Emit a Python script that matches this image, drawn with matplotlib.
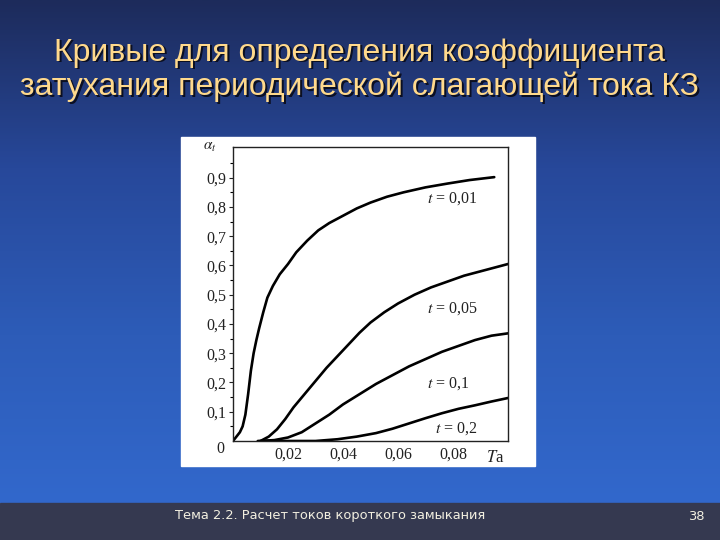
import numpy as np
import matplotlib.pyplot as plt
from matplotlib.colors import LinearSegmentedColormap
from matplotlib.patches import Rectangle

# curves: (T_a, alpha_t)
t001_x = [0, 0.0025, 0.0035, 0.0045, 0.0055, 0.0065, 0.0075, 0.0085, 0.0095, 0.011,
          0.0125, 0.0145, 0.017, 0.020, 0.023, 0.027, 0.031, 0.035, 0.040, 0.045,
          0.050, 0.056, 0.062, 0.070, 0.078, 0.086, 0.095]
t001_y = [0, 0.03, 0.05, 0.09, 0.16, 0.24, 0.30, 0.345, 0.385, 0.44,
          0.49, 0.53, 0.57, 0.605, 0.645, 0.685, 0.72, 0.745, 0.77, 0.795,
          0.815, 0.835, 0.85, 0.867, 0.88, 0.892, 0.902]

t005_x = [0.010, 0.013, 0.016, 0.019, 0.022, 0.026, 0.030, 0.034, 0.038, 0.042,
          0.046, 0.050, 0.055, 0.060, 0.066, 0.072, 0.078, 0.084, 0.090, 0.100]
t005_y = [0.0, 0.015, 0.04, 0.075, 0.115, 0.16, 0.205, 0.25, 0.29, 0.33,
          0.37, 0.405, 0.44, 0.47, 0.50, 0.525, 0.545, 0.565, 0.58, 0.605]

t01_x = [0.009, 0.015, 0.020, 0.025, 0.030, 0.035, 0.040, 0.046, 0.052, 0.058,
         0.064, 0.070, 0.076, 0.082, 0.088, 0.094, 0.100]
t01_y = [0.0, 0.003, 0.012, 0.03, 0.06, 0.09, 0.125, 0.16, 0.195, 0.225,
         0.255, 0.28, 0.305, 0.325, 0.345, 0.36, 0.368]

t02_x = [0.012, 0.030, 0.038, 0.045, 0.052, 0.058, 0.064, 0.070, 0.076, 0.082,
         0.088, 0.094, 0.100]
t02_y = [0.0, 0.0, 0.006, 0.015, 0.027, 0.042, 0.06, 0.078, 0.095, 0.11,
         0.122, 0.135, 0.147]

curve_labels = ["0,01", "0,05", "0,1", "0,2"]
label_x = [0.0705, 0.0705, 0.0705, 0.0735]
label_y = [0.83, 0.453, 0.197, 0.043]

x_ticks = [0.02, 0.04, 0.06, 0.08]
x_ticklabels = ["0,02", "0,04", "0,06", "0,08"]
y_ticks = [0.1, 0.2, 0.3, 0.4, 0.5, 0.6, 0.7, 0.8, 0.9]
y_ticklabels = ["0,1", "0,2", "0,3", "0,4", "0,5", "0,6", "0,7", "0,8", "0,9"]

title = "Кривые для определения коэффициента\nзатухания периодической слагающей тока КЗ"
footer = "Тема 2.2. Расчет токов короткого замыкания"
page = "38"

plt.rcParams['mathtext.fontset'] = 'stix'

fig = plt.figure(figsize=(7.2, 5.4), dpi=100)

# slide background
bg = fig.add_axes([0, 0, 1, 1], zorder=0)
bg.set_axis_off()
cmap = LinearSegmentedColormap.from_list("slide", ["#1d2b5b", "#27489a", "#2d5cb8", "#3268cc"])
grad = np.linspace(0, 1, 256).reshape(-1, 1)
bg.imshow(grad, aspect='auto', cmap=cmap, extent=[0, 1, 37 / 540, 1], origin='upper')
bg.add_patch(Rectangle((0, 0), 1, 37 / 540, color="#353950"))
bg.add_patch(Rectangle((181 / 720, 74 / 540), 354 / 720, 329 / 540, color="white"))
bg.set_xlim(0, 1)
bg.set_ylim(0, 1)

# title with shadow
for dx, dy, col in [(1.5, -1.5, "#0b0f22"), (0, 0, "#ffd98c")]:
    fig.text(0.5 + dx / 720, 1 - 70 / 540 + dy / 540, title, ha='center', va='center',
             fontsize=23, family='Liberation Sans', color=col, linespacing=1.17, zorder=5)

fig.text(175 / 720, 1 - 516 / 540, footer, ha='left', va='center', fontsize=9.4,
         family='DejaVu Sans', color="#f2efe0")
fig.text(688 / 720, 1 - 517 / 540, page, ha='left', va='center', fontsize=9.4,
         family='DejaVu Sans', color="#f2efe0")

ax = fig.add_axes([233 / 720, 99 / 540, 275 / 720, 294 / 540], zorder=2)
ax.set_facecolor("white")
for xs, ys in [(t001_x, t001_y), (t005_x, t005_y), (t01_x, t01_y), (t02_x, t02_y)]:
    ax.plot(xs, ys, color="black", lw=1.9, solid_capstyle='round')

for lab, lx, ly in zip(curve_labels, label_x, label_y):
    ax.text(lx, ly, r"$t$ = " + lab, fontsize=11.5, family='Liberation Serif',
            ha='left', va='center', color="#222222")

ax.set_xlim(0, 0.1)
ax.set_ylim(0, 1.005)
ax.set_xticks(x_ticks)
ax.set_xticklabels(x_ticklabels, family='Liberation Serif', fontsize=11.5)
ax.set_yticks(y_ticks)
ax.set_yticklabels(y_ticklabels, family='Liberation Serif', fontsize=11.5)
ax.set_yticks(np.arange(0.05, 1.0, 0.1), minor=True)
ax.tick_params(axis='y', which='major', direction='out', length=3, width=0.8, pad=2, colors="#222222")
ax.tick_params(axis='y', which='minor', direction='out', length=2.5, width=0.8)
ax.tick_params(axis='x', direction='out', length=0, pad=4, colors="#222222")
for sp in ax.spines.values():
    sp.set_linewidth(1.0)
    sp.set_color("#222222")

ax.text(-0.045, -0.028, "0", transform=ax.transAxes, fontsize=11.5,
        family='Liberation Serif', ha='center', va='center', color="#222222")
ax.text(-0.085, 1.0, r"$\alpha_t$", transform=ax.transAxes, fontsize=11,
        ha='center', va='center', color="#222222")
ax.text(0.955, -0.058, r"$T$a", transform=ax.transAxes, fontsize=12,
        family='Liberation Serif', ha='center', va='center', color="#222222")

fig.savefig("out.png", dpi=100)
